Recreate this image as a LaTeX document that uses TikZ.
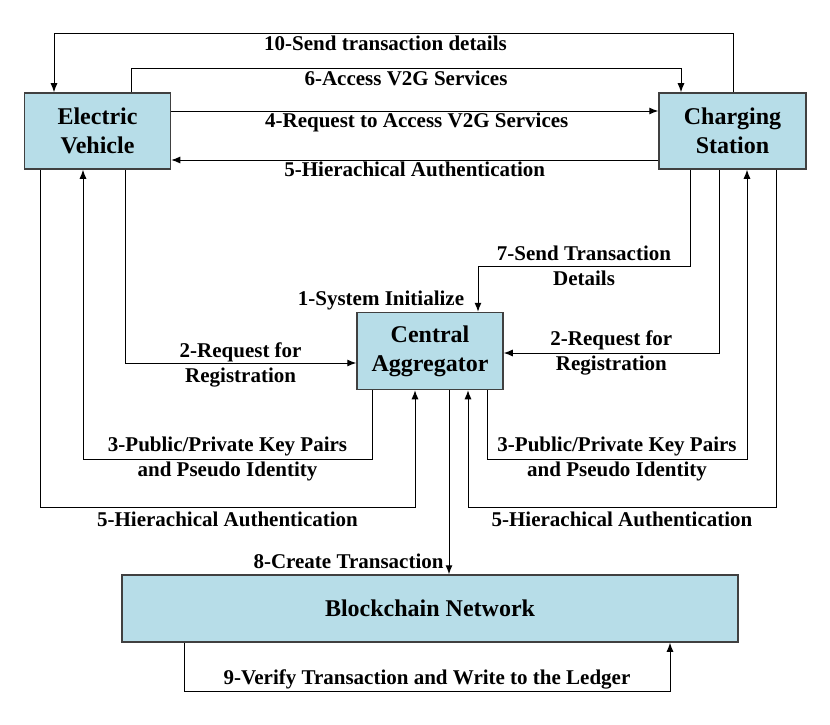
\documentclass[tikz,border=0pt]{standalone}
\usepackage{fontspec}
\setmainfont{Liberation Serif}
\usepackage{tikz}
\usetikzlibrary{arrows,arrows.meta,calc}
\definecolor{boxblue}{RGB}{183,221,232}
\definecolor{boxline}{RGB}{64,64,64}
\tikzset{>={Latex[length=9pt,width=7pt]}}
\tikzset{
  entity/.style={draw=boxline,line width=1.5pt,fill=boxblue,align=center,
    inner sep=0pt,font=\fontsize{24}{29}\selectfont\bfseries},
  lbl/.style={align=center,inner sep=1pt,font=\fontsize{21}{25}\selectfont\bfseries},
  flow/.style={->,line width=1pt}
}

\begin{document}
\begin{tikzpicture}[x=1pt,y=-1pt]
      \useasboundingbox (0,0) rectangle (830,725);
      \node[entity,minimum width=146pt,minimum height=76pt] (ev) at (97.5,131) {Electric\\Vehicle};
      \node[entity,minimum width=147pt,minimum height=76pt] (cs) at (732.5,131) {Charging\\Station};
      \node[entity,minimum width=146pt,minimum height=77pt] (ca) at (430,351) {Central\\Aggregator};
      \node[entity,minimum width=616pt,minimum height=67pt] (bn) at (430,608.5) {Blockchain Network};
      \node[lbl] (init) at (381,300) {1-System Initialize};

      % between vehicle and station
      \draw[flow] (cs.north -| 733,0) -- (733,34) -- node[lbl,below,xshift=-8pt]
      {10-Send transaction details} (54,34) -- (ev.north -| 54,0);
      \draw[flow] (ev.north -| 131,0) -- (131,69) -- node[lbl,below]
      {6-Access V2G Services} (681,69) -- (cs.north -| 681,0);
      \draw[flow] (ev.east |- 0,111) -- node[lbl,below,xshift=2pt] {4-Request to Access V2G Services}
      (cs.west |- 0,111);
      \draw[flow] (cs.west |- 0,160) -- node[lbl,below] {5-Hierachical Authentication}
      (ev.east |- 0,160);

      % registration
      \draw[flow] (ev.south -| 125,0) -- (125,363) -- node[lbl,yshift=-2pt]
      {2-Request for\\Registration} (ca.west |- 0,363);
      \draw[flow] (cs.south -| 719,0) -- (719,353) -- node[lbl]
      {2-Request for\\Registration} (ca.east |- 0,353);
      \draw[flow] (ca.south -| 372,0) -- (372,459) -- node[lbl]
      {3-Public/Private Key Pairs\\and Pseudo Identity} (83,459) -- (ev.south -| 83,0);
      \draw[flow] (ca.south -| 487,0) -- (487,459) -- node[lbl]
      {3-Public/Private Key Pairs\\and Pseudo Identity} (747,459) -- (cs.south -| 747,0);

      % authentication
      \draw[flow] (ev.south -| 40,0) -- (40,507) -- node[lbl,below,yshift=-3pt]
      {5-Hierachical Authentication} (415,507) -- (ca.south -| 415,0);
      \draw[flow] (cs.south -| 776,0) -- (776,507) -- node[lbl,below,yshift=-3pt]
      {5-Hierachical Authentication} (468,507) -- (ca.south -| 468,0);

      % transactions
      \draw[flow] (cs.south -| 690,0) -- (690,266) -- node[lbl]
      {7-Send Transaction\\Details} (478,266) -- (ca.north -| 478,0);
      \draw[flow] (ca.south -| 449,0) -- node[lbl,left,pos=0.93,xshift=-4pt]
      {8-Create Transaction} (bn.north -| 449,0);
      \draw[flow] (bn.south -| 184,0) -- (184,691) -- node[lbl,above]
      {9-Verify Transaction and Write to the Ledger} (670,691) -- (bn.south -| 670,0);
\end{tikzpicture}
\end{document}
